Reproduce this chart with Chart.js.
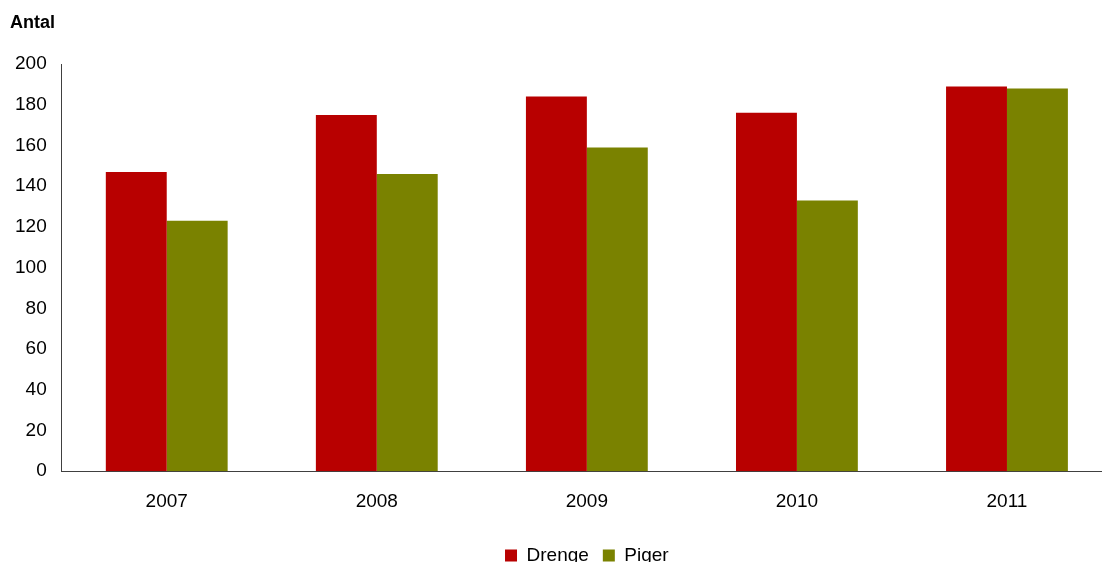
<!DOCTYPE html>
<html>
<head>
<meta charset="utf-8">
<script src="https://cdn.jsdelivr.net/npm/chart.js@4"></script>
<style>
  html, body { margin: 0; padding: 0; background: #fff; overflow: hidden; }
  #wrap { position: relative; width: 1112px; height: 575px; }
  #yTitle { position: absolute; left: 10px; top: 12px; font: bold 18px 'Liberation Sans', Arial, sans-serif; color: #000; }
</style>
</head>
<body>
<div id="wrap">
  <canvas id="myBarChart"></canvas>
  <div id="yTitle">Antal</div>
</div>
<script>
// data
var years = ["2007", "2008", "2009", "2010", "2011"];
var drenge = [147, 175, 184, 176, 189];
var piger = [123, 146, 159, 133, 188];

var RED = "#b80000";
var OLIVE = "#7a8200";
var FONT = "'Liberation Sans', Arial, sans-serif";

var ctx = document.getElementById("myBarChart").getContext("2d");
var myBarChart = new Chart(ctx, {
    type: "bar",
    data: {
        labels: years,
        datasets: [{
            label: "Drenge",
            data: drenge,
            backgroundColor: RED
        }, {
            label: "Piger",
            data: piger,
            backgroundColor: OLIVE
        }]
    },
    options: {
        responsive: true,
        maintainAspectRatio: false,
        animation: false,
        layout: {padding: {left: 0, right: 0, top: 64, bottom: 0}},
        datasets: {bar: {categoryPercentage: 0.58, barPercentage: 1.0}},
        plugins: {
            title: {display: false},
            legend: {
                position: "bottom",
                fullSize: false,
                labels: {
                    color: "#000",
                    font: {family: FONT, size: 19},
                    boxWidth: 12,
                    boxHeight: 12,
                    padding: 14
                }
            },
            tooltip: {enabled: false}
        },
        scales: {
            x: {
                grid: {display: false},
                border: {display: true, color: "#404040", width: 1},
                ticks: {color: "#000", font: {family: FONT, size: 19}, padding: 11},
                afterFit: function(scale) { scale.height += 8; }
            },
            y: {
                min: 0,
                max: 200,
                grid: {display: false, drawTicks: false},
                border: {display: true, color: "#404040", width: 1},
                ticks: {stepSize: 20, color: "#000", font: {family: FONT, size: 19}, padding: 15}
            }
        }
    }
});
</script>
</body>
</html>
